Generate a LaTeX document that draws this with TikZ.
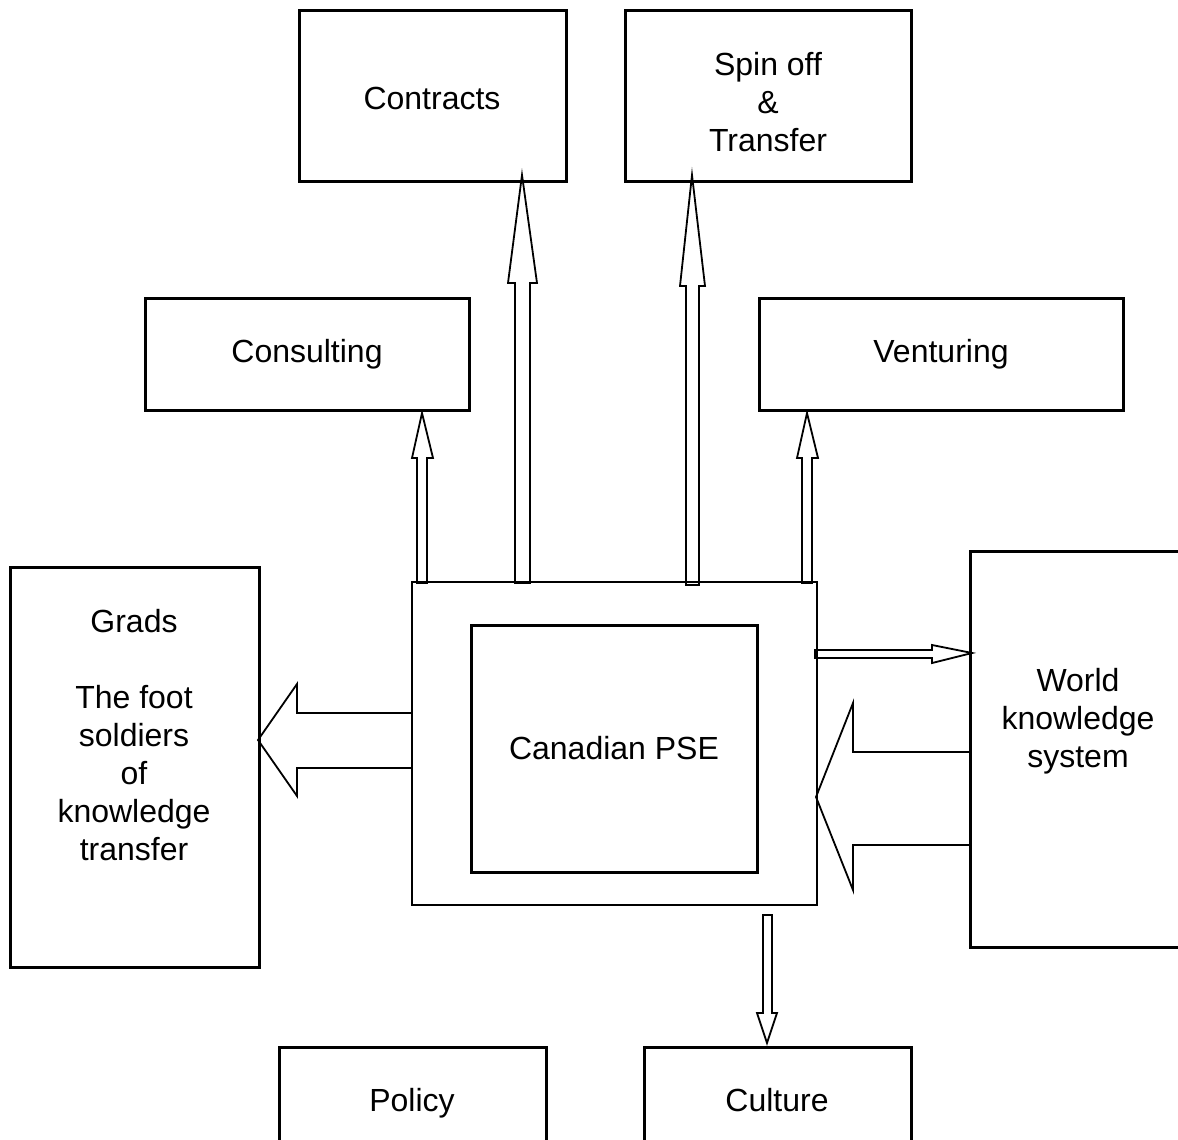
\documentclass[tikz,border=0pt]{standalone}
\usepackage{fontspec}
\setmainfont{Liberation Sans}
\usetikzlibrary{fit}
\begin{document}
\begin{tikzpicture}[x=0.5pt,y=-0.5pt,
  box/.style={draw, line width=1.5pt, inner sep=0pt},
  thinbox/.style={draw, line width=1pt, inner sep=0pt},
  lbl/.style={align=center, font=\fontsize{16}{19}\selectfont, inner sep=0pt},
  oneline/.style={lbl, text height=11.46pt, text depth=0pt},
  barrow/.style={draw, line width=0.9pt, line join=miter}]
\useasboundingbox (0,0) rectangle (1178,1140);

% boxes
\node[box, fit={(299,10)(566,181)}] (contracts) {};
\node[box, fit={(625,10)(911,181)}] (spinoff) {};
\node[box, fit={(145,298)(469,410)}] (consulting) {};
\node[box, fit={(759,298)(1123,410)}] (venturing) {};
\node[box, fit={(10,567)(259,967)}] (grads) {};
\node[box, fit={(970,551)(1186,947)}] (world) {};
\node[thinbox, fit={(412,582)(817,905)}] (outer) {};
\node[box, fit={(471,625)(757,872)}] (pse) {};
\node[box, fit={(279,1047)(546,1160)}] (policy) {};
\node[box, fit={(644,1047)(911,1160)}] (culture) {};

% labels
\node[oneline] (contractsT) at (432,98) {Contracts};
\node[lbl] (spinoffT) at (768,102) {Spin off\\\&\\Transfer};
\node[oneline] (consultingT) at (307,351) {Consulting};
\node[oneline] (venturingT) at (941,351) {Venturing};
\node[lbl] (gradsT) at (134,735) {Grads\\[19pt]The foot\\soldiers\\of\\knowledge\\transfer};
\node[lbl] (worldT) at (1078,721) {World\\knowledge\\system};
\node[oneline] (pseT) at (614,748) {Canadian PSE};
\node[oneline] (policyT) at (412,1100) {Policy};
\node[oneline] (cultureT) at (777,1100) {Culture};

% block arrows
% to Consulting
\draw[barrow] (417,583) -- (417,458) -- (412,458) -- (422,413) -- (433,458) -- (427,458) -- (427,583) -- cycle;
% to Contracts
\draw[barrow] (515,583) -- (515,283) -- (508,283) -- (522,175) -- (537,283) -- (530,283) -- (530,583) -- cycle;
% to Spin off
\draw[barrow] (686,585) -- (686,286) -- (680,286) -- (692,175) -- (705,286) -- (699,286) -- (699,585) -- cycle;
% to Venturing
\draw[barrow] (802,583) -- (802,458) -- (797,458) -- (807,413) -- (818,458) -- (812,458) -- (812,583) -- cycle;
% to Grads
\draw[barrow] (412,713) -- (297,713) -- (297,684) -- (258,740) -- (297,796) -- (297,768) -- (412,768);
% to World
\draw[barrow] (815,650) -- (932,650) -- (932,645) -- (972,653) -- (932,663) -- (932,658) -- (815,658) -- cycle;
% from World
\draw[barrow] (969,752) -- (853,752) -- (853,703) -- (816,797) -- (853,890) -- (853,845) -- (969,845);
% to Culture
\draw[barrow] (763,915) -- (763,1013) -- (757,1013) -- (767,1043) -- (777,1013) -- (772,1013) -- (772,915) -- cycle;
\end{tikzpicture}
\end{document}
